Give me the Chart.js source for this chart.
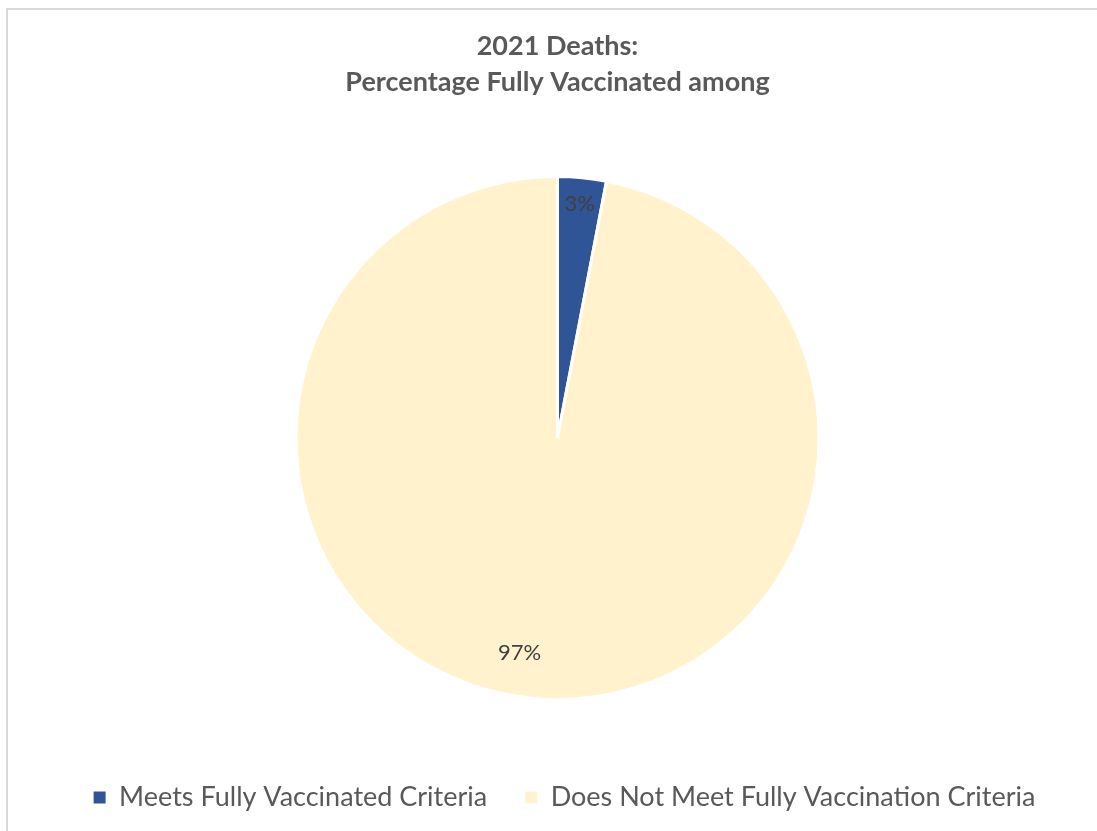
<!DOCTYPE html>
<html>
<head>
<meta charset="utf-8">
<script src="https://cdn.jsdelivr.net/npm/chart.js@4.4.1/dist/chart.umd.min.js"></script>
<style>
  html, body { margin: 0; padding: 0; background: #fff; overflow: hidden; }
  #wrap { position: relative; width: 1097px; height: 831px; overflow: hidden; }
  .rule { position: absolute; background: #d9d9d9; }
  #ruleLeft { left: 6px; top: 8px; width: 2px; height: 823px; }
  #ruleTop { left: 6px; top: 8px; width: 1091px; height: 2px; }
  #box { position: absolute; left: 0; top: 0; width: 1097px; height: 831px; }
</style>
</head>
<body>
<div id="wrap">
  <div class="rule" id="ruleLeft"></div>
  <div class="rule" id="ruleTop"></div>
  <div id="box"><canvas id="pie"></canvas></div>
</div>
<script>
// DATA
const titleLines = ['2021 Deaths:', 'Percentage Fully Vaccinated among'];
const categories = ['Meets Fully Vaccinated Criteria', 'Does Not Meet Fully Vaccination Criteria'];
const percentages = [3, 97];
const sliceColors = ['#2F5597', '#FFF2CC'];

const FONT = "Lato, 'Open Sans', sans-serif";

// label placement (fraction of radius, angle shift in degrees)
const labelRadius = [0.9, 0.835];
const labelShift = [0, 4.6];

const sliceLabels = {
  id: 'sliceLabels',
  afterDatasetsDraw(chart) {
    const ctx = chart.ctx;
    const meta = chart.getDatasetMeta(0);
    ctx.save();
    ctx.font = '22px ' + FONT;
    ctx.fillStyle = '#404040';
    ctx.textAlign = 'center';
    ctx.textBaseline = 'middle';
    meta.data.forEach((arc, i) => {
      const p = arc.getProps(['x', 'y', 'startAngle', 'endAngle', 'outerRadius'], true);
      const mid = (p.startAngle + p.endAngle) / 2 + labelShift[i] * Math.PI / 180;
      const r = p.outerRadius * labelRadius[i];
      ctx.fillText(percentages[i] + '%', p.x + Math.cos(mid) * r, p.y + Math.sin(mid) * r);
    });
    ctx.restore();
  }
};

// nudge the legend row a little to the right, like the original
const legendNudge = {
  id: 'legendNudge',
  afterLayout(chart) {
    chart.legend.left += 7;
    chart.legend.right += 7;
  }
};

new Chart(document.getElementById('pie'), {
  type: 'pie',
  data: {
    labels: categories,
    datasets: [{
      data: percentages,
      backgroundColor: sliceColors,
      borderColor: '#ffffff',
      borderWidth: 3,
      radius: '85.3%'
    }]
  },
  options: {
    responsive: true,
    maintainAspectRatio: false,
    animation: false,
    layout: { padding: { left: 18, right: 0, top: 0, bottom: 10 } },
    plugins: {
      title: {
        display: true,
        text: titleLines,
        color: '#595959',
        font: { family: FONT, size: 27, weight: 'bold', lineHeight: 1.333 },
        padding: { top: 28, bottom: 30 }
      },
      legend: {
        position: 'bottom',
        labels: {
          color: '#595959',
          font: { family: FONT, size: 27 },
          boxWidth: 12,
          boxHeight: 12,
          padding: 38,
          generateLabels(chart) {
            const items = Chart.controllers.pie.overrides.plugins.legend.labels.generateLabels(chart);
            items.forEach(it => { it.lineWidth = 0; });
            return items;
          }
        }
      },
      tooltip: { enabled: false }
    }
  },
  plugins: [sliceLabels, legendNudge]
});
</script>
</body>
</html>
